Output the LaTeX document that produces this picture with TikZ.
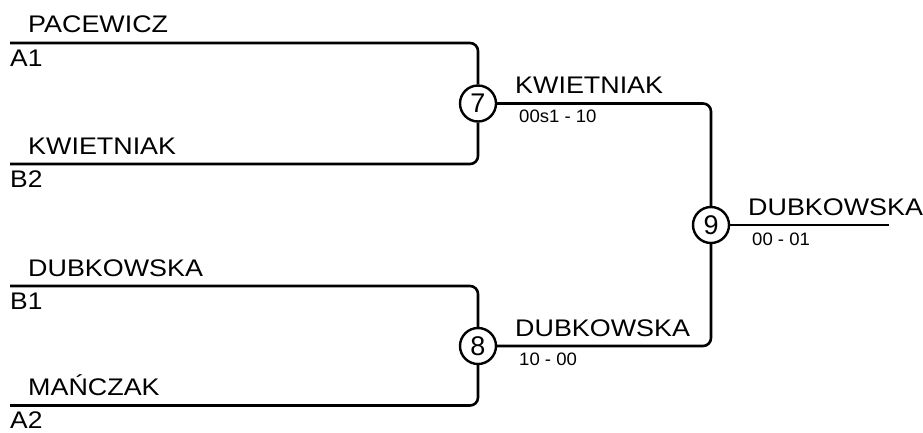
\documentclass[tikz,border=0pt]{standalone}
\usepackage{fontspec}
\setmainfont{Liberation Sans}
\begin{document}
\begin{tikzpicture}[x=1pt,y=-1pt,
  wire/.style={line width=2.6pt, rounded corners=8pt},
  circ/.style={circle, draw, line width=2.4pt, minimum size=36pt, inner sep=0pt, font=\fontsize{27}{30}\selectfont},
  pname/.style={anchor=base west, inner sep=0pt, font=\fontsize{24}{28}\selectfont, xscale=1.12},
  seedlab/.style={anchor=base west, inner sep=0pt, font=\fontsize{24}{28}\selectfont, xscale=1.1},
  scorelab/.style={anchor=base west, inner sep=0pt, font=\fontsize{18}{21}\selectfont, xscale=1.03}]
\useasboundingbox (0,0) rectangle (923,432);
% match circles
\node[circ] (m7) at (478,103.5) {7};
\node[circ] (m8) at (478,346) {8};
\node[circ] (m9) at (711,225) {9};
% start points
\coordinate (a1) at (10,43);
\coordinate (b2) at (10,164);
\coordinate (b1) at (10,286);
\coordinate (a2) at (10,405.5);
\coordinate (fin) at (889,225);
% connectors
\draw[wire] (a1) -| (m7);
\draw[wire] (b2) -| (m7);
\draw[wire] (b1) -| (m8);
\draw[wire] (a2) -| (m8);
\draw[wire] (m7) -| (m9);
\draw[wire] (m8) -| (m9);
\draw[wire] (m9) -- (fin);
% names
\node[pname] (n1) at (28,32.7) {PACEWICZ};
\node[pname] (n2) at (28,154) {KWIETNIAK};
\node[pname] (n3) at (28,276) {DUBKOWSKA};
\node[pname] (n4) at (28,395.5) {MAŃCZAK};
\node[pname] (n5) at (515,93.5) {KWIETNIAK};
\node[pname] (n6) at (515,336) {DUBKOWSKA};
\node[pname] (n7) at (748,215) {DUBKOWSKA};
% seeds
\node[seedlab] (s1) at (10,66.7) {A1};
\node[seedlab] (s2) at (10,187.7) {B2};
\node[seedlab] (s3) at (10,309.7) {B1};
\node[seedlab] (s4) at (10,428.5) {A2};
% scores
\node[scorelab] (c1) at (519,122.7) {00s1 - 10};
\node[scorelab] (c2) at (519,365.5) {10 - 00};
\node[scorelab] (c3) at (752,245.5) {00 - 01};
\end{tikzpicture}
\end{document}
